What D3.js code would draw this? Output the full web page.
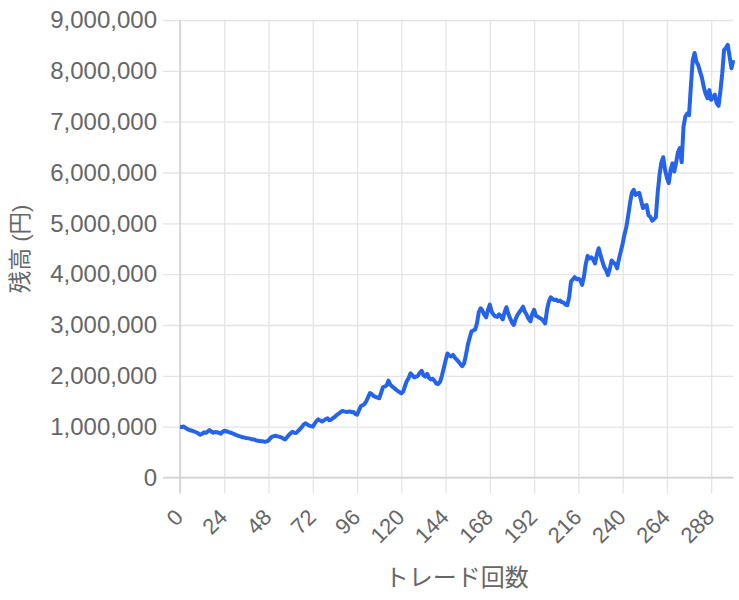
<!DOCTYPE html>
<html>
<head>
<meta charset="utf-8">
<script src="https://cdn.jsdelivr.net/npm/d3@7"></script>
<style>
  body { margin: 0; background: #fff; }
  text { font-family: "Helvetica Neue", Helvetica, Arial, "Liberation Sans", "Noto Sans CJK JP", sans-serif; fill: #666; }
</style>
</head>
<body>
<div id="chart"></div>
<script>
// balance after each trade (yen)
const balance = [
  1000000, 995000, 1002000, 975000, 950000, 935000, 925000, 915000, 900000, 885000,
  865000, 840000, 860000, 890000, 875000, 905000, 935000, 905000, 880000, 895000,
  890000, 880000, 860000, 895000, 920000, 910000, 900000, 885000, 875000, 860000,
  840000, 830000, 815000, 805000, 790000, 785000, 775000, 770000, 765000, 752000,
  748000, 735000, 722000, 720000, 715000, 712000, 700000, 710000, 730000, 775000,
  805000, 815000, 820000, 810000, 800000, 790000, 765000, 750000, 790000, 836000,
  870000, 900000, 880000, 875000, 915000, 950000, 990000, 1040000, 1066000, 1045000,
  1020000, 1010000, 1000000, 1060000, 1110000, 1145000, 1120000, 1100000, 1125000, 1150000,
  1165000, 1125000, 1140000, 1170000, 1195000, 1230000, 1255000, 1285000, 1310000, 1300000,
  1295000, 1290000, 1300000, 1285000, 1290000, 1250000, 1235000, 1320000, 1400000, 1420000,
  1445000, 1500000, 1580000, 1660000, 1640000, 1600000, 1585000, 1570000, 1560000, 1660000,
  1775000, 1790000, 1810000, 1905000, 1830000, 1790000, 1765000, 1730000, 1700000, 1680000,
  1655000, 1690000, 1800000, 1900000, 1960000, 2050000, 2010000, 1970000, 1985000, 2000000,
  2060000, 2100000, 2010000, 1985000, 2040000, 1960000, 1930000, 1940000, 1900000, 1850000,
  1840000, 1880000, 2000000, 2150000, 2300000, 2440000, 2400000, 2380000, 2410000, 2360000,
  2320000, 2280000, 2230000, 2190000, 2240000, 2400000, 2600000, 2740000, 2870000, 2890000,
  2910000, 3030000, 3250000, 3330000, 3280000, 3200000, 3150000, 3300000, 3400000, 3260000,
  3200000, 3170000, 3160000, 3210000, 3170000, 3110000, 3250000, 3350000, 3220000, 3130000,
  3050000, 3000000, 3120000, 3200000, 3250000, 3300000, 3360000, 3260000, 3200000, 3120000,
  3070000, 3220000, 3300000, 3180000, 3160000, 3140000, 3120000, 3080000, 3030000, 3300000,
  3460000, 3545000, 3510000, 3490000, 3500000, 3470000, 3480000, 3450000, 3440000, 3400000,
  3390000, 3545000, 3850000, 3900000, 3940000, 3900000, 3910000, 3885000, 3790000, 3950000,
  4200000, 4360000, 4310000, 4330000, 4290000, 4210000, 4380000, 4510000, 4380000, 4250000,
  4140000, 4080000, 3980000, 4100000, 4270000, 4230000, 4200000, 4115000, 4300000, 4450000,
  4600000, 4780000, 4930000, 5150000, 5400000, 5600000, 5660000, 5560000, 5590000, 5600000,
  5450000, 5300000, 5340000, 5360000, 5160000, 5130000, 5050000, 5080000, 5120000, 5600000,
  5950000, 6200000, 6300000, 6050000, 5900000, 5790000, 6050000, 6180000, 6020000, 6200000,
  6400000, 6480000, 6200000, 6900000, 7100000, 7160000, 7130000, 7700000, 8210000, 8350000,
  8180000, 8110000, 7980000, 7860000, 7680000, 7550000, 7460000, 7620000, 7430000, 7480000,
  7530000, 7360000, 7310000, 7600000, 7950000, 8410000, 8450000, 8510000, 8280000, 8050000,
  8210000
];
const xTickValues = [0, 24, 48, 72, 96, 120, 144, 168, 192, 216, 240, 264, 288];
const yTickValues = [0, 1000000, 2000000, 3000000, 4000000, 5000000, 6000000, 7000000, 8000000, 9000000];

const W = 739, H = 600;
const margin = { top: 20, right: 5.7, bottom: 122.5, left: 180 };
const width = W - margin.left - margin.right;
const height = H - margin.top - margin.bottom;

const svg = d3.select("#chart").append("svg")
  .attr("width", W).attr("height", H);
const g = svg.append("g")
  .attr("transform", `translate(${margin.left},${margin.top})`);

const x = d3.scaleLinear().domain([0, balance.length - 1]).range([0, width]);
const y = d3.scaleLinear().domain([0, 9000000]).range([height, 0]);

// y axis + horizontal grid
const yAxis = g.append("g")
  .call(d3.axisLeft(y).tickValues(yTickValues).tickSize(17).tickPadding(6)
    .tickFormat(d3.format(",")));
yAxis.select(".domain").remove();
yAxis.selectAll("line").attr("x1", width).attr("stroke", "#e4e4e4").attr("stroke-width", 1.3);
yAxis.selectAll("text").style("font-size", "24px").attr("fill", "#666");

// x axis + vertical grid
const xAxis = g.append("g")
  .attr("transform", `translate(0,${height})`)
  .call(d3.axisBottom(x).tickValues(xTickValues).tickSize(16));
xAxis.select(".domain").remove();
xAxis.selectAll("line").attr("y1", -height).attr("stroke", "#e4e4e4").attr("stroke-width", 1.3);
xAxis.selectAll("text")
  .style("font-size", "22px")
  .attr("fill", "#666")
  .attr("text-anchor", "end")
  .attr("dy", 0)
  .attr("y", 0)
  .attr("transform", "translate(4,41) rotate(-45)");

// axis borders
g.append("line")
  .attr("x1", 0).attr("x2", 0).attr("y1", 0).attr("y2", height + 16)
  .attr("stroke", "#d2d2d2").attr("stroke-width", 1.5);
g.append("line")
  .attr("x1", -17).attr("x2", width).attr("y1", height).attr("y2", height)
  .attr("stroke", "#d2d2d2").attr("stroke-width", 1.5);

// balance line
const line = d3.line()
  .x((d, i) => x(i))
  .y(d => y(d));

g.append("path")
  .datum(balance)
  .attr("fill", "none")
  .attr("stroke", "#2563eb")
  .attr("stroke-width", 4)
  .attr("stroke-linejoin", "round")
  .attr("d", line);

// axis titles
svg.append("text")
  .attr("transform", `translate(28,${margin.top + height / 2}) rotate(-90)`)
  .attr("text-anchor", "middle")
  .style("font-size", "22.5px")
  .text("残高 (円)");

svg.append("text")
  .attr("x", margin.left + width / 2)
  .attr("y", 586)
  .attr("text-anchor", "middle")
  .style("font-size", "24px")
  .text("トレード回数");
</script>
</body>
</html>
